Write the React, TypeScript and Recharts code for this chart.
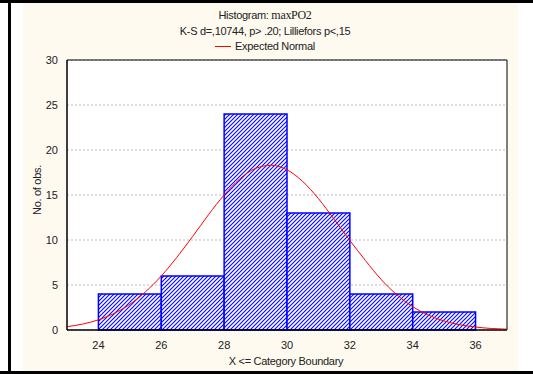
import React from "react";
import { ComposedChart, Line, XAxis, YAxis, CartesianGrid, ReferenceArea } from "recharts";

const binStarts = [24, 26, 28, 30, 32, 34];
const binEnds = [26, 28, 30, 32, 34, 36];
const counts = [4, 6, 24, 13, 4, 2];

const curveX = [23, 23.5, 24, 24.5, 25, 25.5, 26, 26.5, 27, 27.5, 28, 28.5, 29, 29.5, 30, 30.5, 31, 31.5, 32, 32.5, 33, 33.5, 34, 34.5, 35, 35.5, 36, 36.5, 37];
const curveY = [0.37, 0.66, 1.13, 1.84, 2.86, 4.25, 6.0, 8.1, 10.4, 12.8, 15.0, 16.8, 17.96, 18.3, 17.8, 16.5, 14.6, 12.3, 9.95, 7.7, 5.6, 3.9, 2.6, 1.65, 1.0, 0.58, 0.33, 0.17, 0.09];

const xTicks = [24, 26, 28, 30, 32, 34, 36];
const yTicks = [0, 5, 10, 15, 20, 25, 30];

const titleMain = "Histogram: ";
const titleVar = "maxPO2";
const subtitle = "K-S d=,10744, p> .20; Lilliefors p<,15";
const legendLabel = "Expected Normal";
const xLabel = "X <= Category Boundary";
const yLabel = "No. of obs.";

const curveData = curveX.map((x, i) => ({ x, y: curveY[i] }));

const FONT = "'Liberation Sans', Arial, sans-serif";

export default function App() {
  return (
    <div style={{ position: "absolute", left: 0, top: 0, width: 533, height: 374, background: "#ffffff", fontFamily: FONT, overflow: "hidden" }}>
      <svg width={0} height={0} style={{ position: "absolute" }}>
        <defs>
          <pattern id="bluehatch" x="0" y="0" width="4" height="4" patternUnits="userSpaceOnUse">
            <rect x="0" y="0" width="4" height="4" fill="#ffffff" />
            <path d="M-1,1 L1,-1 M0,4 L4,0 M3,5 L5,3" stroke="#0a0aff" strokeWidth={1.2} fill="none" />
          </pattern>
        </defs>
      </svg>
      <div style={{ position: "absolute", left: 23, top: 3, width: 495, height: 368, background: "#fefaf0" }} />
      <div style={{ position: "absolute", left: 0, top: 0, width: 533, height: 3, background: "#000" }} />
      <div style={{ position: "absolute", left: 8, top: 0, width: 3, height: 374, background: "#000" }} />
      <div style={{ position: "absolute", left: 0, top: 371, width: 533, height: 3, background: "#000" }} />

      <div style={{ position: "absolute", left: 0, width: 530, top: 8, textAlign: "center", fontSize: 11, color: "#222", letterSpacing: -0.3 }}>
        {titleMain}
        <span style={{ fontFamily: "'Liberation Serif', 'Times New Roman', serif", fontSize: 12 }}>{titleVar}</span>
      </div>
      <div style={{ position: "absolute", left: 0, width: 530, top: 25, textAlign: "center", fontSize: 11, color: "#222", letterSpacing: -0.3 }}>
        {subtitle}
      </div>
      <div style={{ position: "absolute", left: 0, width: 530, top: 40, textAlign: "center", fontSize: 11, color: "#222", letterSpacing: -0.3 }}>
        <span style={{ display: "inline-block", width: 16, height: 0, borderTop: "1px solid #ff0000", verticalAlign: "middle", marginRight: 4, marginBottom: 2 }} />
        {legendLabel}
      </div>

      <div style={{ position: "absolute", left: 0, top: 0 }}>
        <ComposedChart
          width={533}
          height={374}
          data={curveData}
          margin={{ top: 60, right: 26, bottom: 14, left: 37 }}
        >
          <CartesianGrid vertical={false} stroke="#bdbdbd" strokeDasharray="2 2" fill="#ffffff" />
          <XAxis
            dataKey="x"
            type="number"
            domain={[23, 37]}
            ticks={xTicks}
            allowDataOverflow
            axisLine={{ stroke: "#000" }}
            tickLine={false}
            tickMargin={5}
            height={30}
            tick={{ fontSize: 11, fill: "#222", fontFamily: FONT }}
          />
          <YAxis
            type="number"
            domain={[0, 30]}
            ticks={yTicks}
            axisLine={{ stroke: "#000" }}
            tickLine={false}
            tickMargin={3}
            width={30}
            tick={{ fontSize: 11, fill: "#222", fontFamily: FONT }}
          />
          {counts.map((c, i) => (
            <ReferenceArea
              key={i}
              x1={binStarts[i]}
              x2={binEnds[i]}
              y1={0}
              y2={c}
              fill="url(#bluehatch)"
              fillOpacity={1}
              stroke="#0000ff"
              strokeWidth={1.5}
              ifOverflow="visible"
            />
          ))}
          <ReferenceArea x1={23} x2={37} y1={0} y2={30} fill="none" stroke="#000" strokeWidth={1} ifOverflow="visible" />
          <Line type="monotone" dataKey="y" stroke="#ff0000" strokeWidth={1} dot={false} isAnimationActive={false} />
        </ComposedChart>
      </div>

      <div style={{ position: "absolute", left: 206, width: 160, top: 355, textAlign: "center", fontSize: 11, color: "#222", letterSpacing: -0.3 }}>
        {xLabel}
      </div>
      <svg style={{ position: "absolute", left: 0, top: 0 }} width={60} height={374}>
        <text
          x={37}
          y={190}
          transform="rotate(-90 37 190)"
          textAnchor="middle"
          dominantBaseline="central"
          fontSize={11}
          fill="#222"
          fontFamily={FONT}
          letterSpacing={-0.3}
        >
          {yLabel}
        </text>
      </svg>
    </div>
  );
}
